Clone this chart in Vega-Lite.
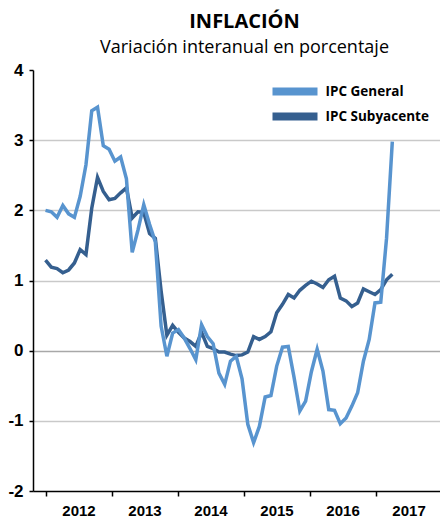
{
  "$schema": "https://vega.github.io/schema/vega-lite/v6.json",
  "width": 407,
  "height": 421,
  "autosize": {"type": "none"},
  "padding": {"left": 33, "top": 70, "right": 0, "bottom": 32},
  "background": "white",
  "title": {
    "text": "INFLACIÓN",
    "subtitle": "Variación interanual en porcentaje",
    "anchor": "middle",
    "dx": 8,
    "font": "Open Sans",
    "fontSize": 20,
    "fontWeight": "bold",
    "color": "#000000",
    "subtitleFont": "Open Sans",
    "subtitleFontSize": 18,
    "subtitleColor": "#000000",
    "subtitlePadding": 7,
    "offset": 4
  },
  "config": {"view": {"stroke": null}},
  "data": {
    "values": [
      {"mes": 0, "IPC General": 2.0, "IPC Subyacente": 1.29},
      {"mes": 1, "IPC General": 1.98, "IPC Subyacente": 1.19},
      {"mes": 2, "IPC General": 1.9, "IPC Subyacente": 1.17},
      {"mes": 3, "IPC General": 2.07, "IPC Subyacente": 1.11},
      {"mes": 4, "IPC General": 1.95, "IPC Subyacente": 1.15},
      {"mes": 5, "IPC General": 1.9, "IPC Subyacente": 1.25},
      {"mes": 6, "IPC General": 2.2, "IPC Subyacente": 1.44},
      {"mes": 7, "IPC General": 2.65, "IPC Subyacente": 1.37},
      {"mes": 8, "IPC General": 3.42, "IPC Subyacente": 2.03},
      {"mes": 9, "IPC General": 3.47, "IPC Subyacente": 2.47},
      {"mes": 10, "IPC General": 2.92, "IPC Subyacente": 2.27},
      {"mes": 11, "IPC General": 2.87, "IPC Subyacente": 2.15},
      {"mes": 12, "IPC General": 2.7, "IPC Subyacente": 2.17},
      {"mes": 13, "IPC General": 2.76, "IPC Subyacente": 2.25},
      {"mes": 14, "IPC General": 2.45, "IPC Subyacente": 2.32},
      {"mes": 15, "IPC General": 1.4, "IPC Subyacente": 1.89},
      {"mes": 16, "IPC General": 1.72, "IPC Subyacente": 1.98},
      {"mes": 17, "IPC General": 2.08, "IPC Subyacente": 1.97},
      {"mes": 18, "IPC General": 1.8, "IPC Subyacente": 1.67},
      {"mes": 19, "IPC General": 1.55, "IPC Subyacente": 1.6},
      {"mes": 20, "IPC General": 0.35, "IPC Subyacente": 0.85},
      {"mes": 21, "IPC General": -0.08, "IPC Subyacente": 0.22},
      {"mes": 22, "IPC General": 0.25, "IPC Subyacente": 0.36},
      {"mes": 23, "IPC General": 0.3, "IPC Subyacente": 0.26},
      {"mes": 24, "IPC General": 0.18, "IPC Subyacente": 0.18},
      {"mes": 25, "IPC General": 0.03, "IPC Subyacente": 0.13},
      {"mes": 26, "IPC General": -0.13, "IPC Subyacente": 0.06},
      {"mes": 27, "IPC General": 0.37, "IPC Subyacente": 0.26},
      {"mes": 28, "IPC General": 0.2, "IPC Subyacente": 0.06},
      {"mes": 29, "IPC General": 0.1, "IPC Subyacente": 0.03},
      {"mes": 30, "IPC General": -0.32, "IPC Subyacente": -0.02},
      {"mes": 31, "IPC General": -0.48, "IPC Subyacente": -0.02},
      {"mes": 32, "IPC General": -0.15, "IPC Subyacente": -0.05},
      {"mes": 33, "IPC General": -0.08, "IPC Subyacente": -0.07},
      {"mes": 34, "IPC General": -0.4, "IPC Subyacente": -0.06},
      {"mes": 35, "IPC General": -1.05, "IPC Subyacente": -0.02},
      {"mes": 36, "IPC General": -1.31, "IPC Subyacente": 0.2},
      {"mes": 37, "IPC General": -1.08, "IPC Subyacente": 0.16},
      {"mes": 38, "IPC General": -0.66, "IPC Subyacente": 0.2},
      {"mes": 39, "IPC General": -0.64, "IPC Subyacente": 0.27},
      {"mes": 40, "IPC General": -0.22, "IPC Subyacente": 0.54},
      {"mes": 41, "IPC General": 0.05, "IPC Subyacente": 0.66},
      {"mes": 42, "IPC General": 0.06, "IPC Subyacente": 0.8},
      {"mes": 43, "IPC General": -0.38, "IPC Subyacente": 0.75},
      {"mes": 44, "IPC General": -0.86, "IPC Subyacente": 0.86},
      {"mes": 45, "IPC General": -0.72, "IPC Subyacente": 0.93},
      {"mes": 46, "IPC General": -0.3, "IPC Subyacente": 0.99},
      {"mes": 47, "IPC General": 0.02, "IPC Subyacente": 0.95},
      {"mes": 48, "IPC General": -0.29, "IPC Subyacente": 0.9},
      {"mes": 49, "IPC General": -0.84, "IPC Subyacente": 1.01},
      {"mes": 50, "IPC General": -0.85, "IPC Subyacente": 1.06},
      {"mes": 51, "IPC General": -1.04, "IPC Subyacente": 0.75},
      {"mes": 52, "IPC General": -0.96, "IPC Subyacente": 0.71},
      {"mes": 53, "IPC General": -0.79, "IPC Subyacente": 0.63},
      {"mes": 54, "IPC General": -0.6, "IPC Subyacente": 0.68},
      {"mes": 55, "IPC General": -0.15, "IPC Subyacente": 0.88},
      {"mes": 56, "IPC General": 0.16, "IPC Subyacente": 0.84},
      {"mes": 57, "IPC General": 0.68, "IPC Subyacente": 0.8},
      {"mes": 58, "IPC General": 0.69, "IPC Subyacente": 0.87},
      {"mes": 59, "IPC General": 1.6, "IPC Subyacente": 1.01},
      {"mes": 60, "IPC General": 2.98, "IPC Subyacente": 1.09}
    ]
  },
  "transform": [{"fold": ["IPC General", "IPC Subyacente"], "as": ["serie", "valor"]}],
  "encoding": {
    "x": {
      "field": "mes",
      "type": "quantitative",
      "scale": {"domain": [-2.163, 68.25], "nice": false, "zero": false},
      "axis": {
        "title": null,
        "values": [0, 11.42, 22.84, 34.26, 45.68, 57.1],
        "labelExpr": "['2012','2013','2014','2015','2016','2017'][round(datum.value / 11.42)]",
        "labelOffset": 33,
        "labelFlush": false,
        "labelOverlap": false,
        "grid": false,
        "domainColor": "#000000",
        "domainWidth": 1.5,
        "tickColor": "#000000",
        "tickWidth": 1.5,
        "tickSize": 5,
        "labelFont": "Liberation Sans",
        "labelFontWeight": "bold",
        "labelFontSize": 15,
        "labelColor": "#000000",
        "labelPadding": 7
      }
    },
    "y": {
      "field": "valor",
      "type": "quantitative",
      "scale": {"domain": [-2, 4], "nice": false},
      "axis": {
        "title": null,
        "values": [-2, -1, 0, 1, 2, 3, 4],
        "labelExpr": "'' + datum.value",
        "domainColor": "#000000",
        "domainWidth": 1.5,
        "tickColor": "#000000",
        "tickWidth": 1.5,
        "tickSize": 4,
        "labelFont": "Liberation Sans",
        "labelFontWeight": "bold",
        "labelFontSize": 17,
        "labelColor": "#000000",
        "labelPadding": 6,
        "grid": true,
        "gridWidth": 1.5,
        "gridColor": {"condition": {"test": "datum.value === 0", "value": "#a8a8a8"}, "value": "#c9c9c9"},
        "gridOpacity": {"condition": {"test": "datum.value === 4 || datum.value === -2", "value": 0}, "value": 1}
      }
    },
    "color": {
      "field": "serie",
      "type": "nominal",
      "scale": {"domain": ["IPC General", "IPC Subyacente"], "range": ["#5894cf", "#355f8f"]},
      "legend": {
        "title": null,
        "orient": "none",
        "legendX": 253.5,
        "legendY": 13,
        "padding": 0,
        "symbolType": "M-5,0H5",
        "symbolStrokeWidth": 8,
        "symbolSize": 81,
        "labelFont": "Open Sans",
        "labelFontWeight": "bold",
        "labelFontSize": 13.5,
        "labelColor": "#000000",
        "labelOffset": 22,
        "rowPadding": -13.5
      }
    }
  },
  "layer": [
    {"transform": [{"filter": "datum.serie == 'IPC Subyacente'"}], "mark": {"type": "line", "strokeWidth": 3.5}},
    {"transform": [{"filter": "datum.serie == 'IPC General'"}], "mark": {"type": "line", "strokeWidth": 3.5}}
  ]
}
